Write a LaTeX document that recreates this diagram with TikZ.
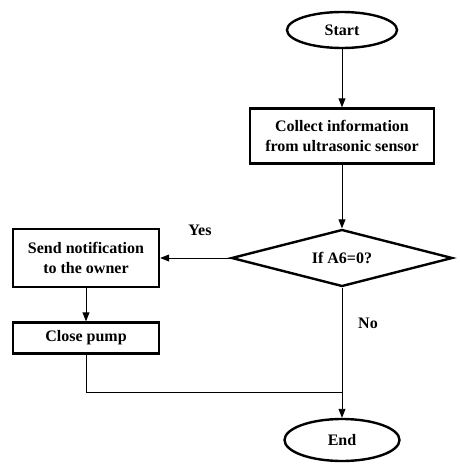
\documentclass[tikz,border=0pt]{standalone}
\usepackage{fontspec}
\setmainfont{Liberation Serif}
\usetikzlibrary{arrows.meta,positioning,shapes.geometric}
\tikzset{box/.style={draw,line width=2.4pt,align=center,inner sep=2pt,
    font=\bfseries\fontsize{16}{20}\selectfont},
  term/.style={box,ellipse},
  cond/.style={box,diamond,aspect=3.8,inner sep=0pt},
  arr/.style={-{Triangle[length=9pt,width=7pt]},line width=0.9pt},
  lnk/.style={line width=0.9pt}}

\begin{document}
\begin{tikzpicture}[x=1pt,y=-1pt,
  lbl/.style={font=\bfseries\fontsize{16}{20}\selectfont}]
\useasboundingbox (0,0) rectangle (460,471);
\node[term,minimum width=110pt,minimum height=36pt] (start) at (342,30) {Start};
\node[box,minimum width=184pt,minimum height=55pt] (collect) at (342,136) {Collect information\\from ultrasonic sensor};
\node[cond,minimum width=221pt,minimum height=57pt] (check) at (342,258) {If A6=0?};
\node[box,minimum width=146pt,minimum height=58pt] (notify) at (86,258) {Send notification\\to the owner};
\node[box,minimum width=146pt,minimum height=31pt] (pump) at (86,338) {Close pump};
\node[term,minimum width=115pt,minimum height=42pt] (end) at (342,440) {End};
\node[lbl] (yes) at (200,230) {Yes};
\node[lbl] (no) at (368,323) {No};
\draw[arr] (start) -- (collect);
\draw[arr] (collect) -- (check);
\draw[arr] (check) -- (notify);
\draw[arr] (notify) -- (pump);
\draw[arr] (check) -- (end);
\draw[lnk] (pump.south) |- (end.north |- 0,392);
\end{tikzpicture}
\end{document}
